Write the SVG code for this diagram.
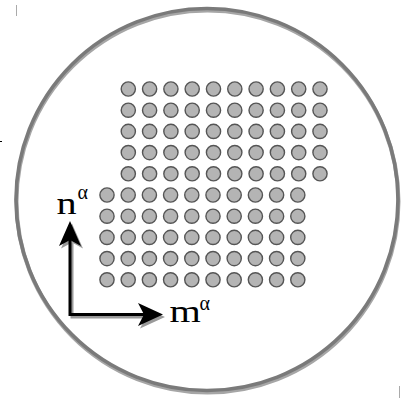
<svg xmlns="http://www.w3.org/2000/svg" xmlns:xlink="http://www.w3.org/1999/xlink" width="403" height="398" viewBox="0 0 403 398">
<style>
.dot{fill:#b4b4b4;stroke:#555;stroke-width:1.4}
.lbl{font-family:"Liberation Serif","Times New Roman",serif;fill:#000}
.ax{stroke:#000;stroke-width:3;fill:none}
.axs{stroke:#9a9a9a;stroke-width:3;fill:none}
</style>
<defs>
<circle id="d" r="7.1" class="dot"/>
</defs>
<rect width="403" height="398" fill="#fff"/>
<g id="ring">
<circle cx="207.5" cy="201.5" r="191" fill="none" stroke="#a6a6a6" stroke-width="4"/>
<circle cx="207" cy="199.5" r="191" fill="none" stroke="#7a7a7a" stroke-width="3.6"/>
</g>
<g id="marks" stroke="#aaa" stroke-width="1">
<line x1="16.5" y1="5" x2="16.5" y2="16"/>
<line x1="399.5" y1="386" x2="399.5" y2="398"/>
<line x1="0" y1="141.5" x2="2" y2="141.5" stroke="#000"/>
</g>
<g id="top-lattice">
<g id="t0" transform="translate(0,89)"><use xlink:href="#d" x="128.3"/><use xlink:href="#d" x="149.6"/><use xlink:href="#d" x="170.9"/><use xlink:href="#d" x="192.2"/><use xlink:href="#d" x="213.5"/><use xlink:href="#d" x="234.8"/><use xlink:href="#d" x="256.1"/><use xlink:href="#d" x="277.4"/><use xlink:href="#d" x="298.7"/><use xlink:href="#d" x="320"/></g>
<use xlink:href="#t0" y="21.2"/>
<use xlink:href="#t0" y="42.4"/>
<use xlink:href="#t0" y="63.6"/>
<use xlink:href="#t0" y="84.8"/>
</g>
<g id="bottom-lattice">
<g id="b0" transform="translate(0,195)"><use xlink:href="#d" x="107"/><use xlink:href="#d" x="128.2"/><use xlink:href="#d" x="149.4"/><use xlink:href="#d" x="170.6"/><use xlink:href="#d" x="191.8"/><use xlink:href="#d" x="213"/><use xlink:href="#d" x="234.2"/><use xlink:href="#d" x="255.4"/><use xlink:href="#d" x="276.6"/><use xlink:href="#d" x="297.8"/></g>
<use xlink:href="#b0" y="21.2"/>
<use xlink:href="#b0" y="42.4"/>
<use xlink:href="#b0" y="63.6"/>
<use xlink:href="#b0" y="84.8"/>
</g>
<g id="connectors">
<g id="axes-shadow" transform="translate(2,2.5)">
<path class="axs" d="M70,240 V314.5 H145"/>
<polygon points="70,221 81,246 70,240 59,246" fill="#9a9a9a"/>
<polygon points="163,314.5 138,303 144,314.5 138,326" fill="#9a9a9a"/>
</g>
<g id="axes">
<path class="ax" d="M70,240 V314.5 H145"/>
<polygon points="70,221 81,246 70,240 59,246" fill="#000"/>
<polygon points="163,314.5 138,303 144,314.5 138,326" fill="#000"/>
</g>
</g>
<g id="label-n">
<text class="lbl" font-size="31" transform="translate(56.5,214) scale(1.3,1)">n</text>
<text class="lbl" font-size="20" x="77.5" y="199">α</text>
</g>
<g id="label-m">
<text class="lbl" font-size="31" transform="translate(169.5,322) scale(1.3,1)">m</text>
<text class="lbl" font-size="20" x="199.5" y="310">α</text>
</g>
</svg>
